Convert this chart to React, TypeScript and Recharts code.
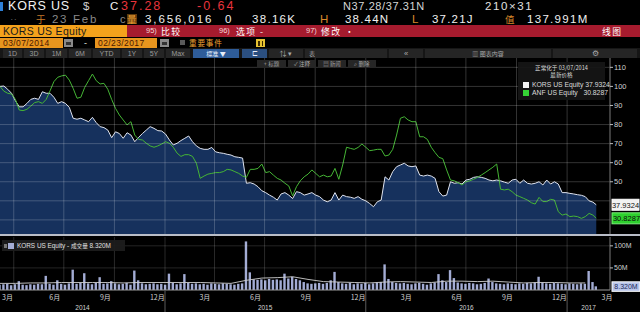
import React from 'react';
import { ComposedChart, Area, Line, Bar, XAxis, YAxis, ReferenceLine } from 'recharts';

// ---- data (weekly, normalised to 100 at 03/07/2014) ----
const korsValues = [
  100, 100.2, 98.5, 96.4, 92.5, 89.3, 89.3, 91.1, 93.2, 93.8, 93.2, 97.2, 96.4, 96.4, 94.3, 91.1, 92, 91.1, 89, 83.3,
  82.8, 83.3, 82.4, 81.5, 83.8, 81, 78.9, 78.4, 77.1, 73.1, 76.2, 75.3, 72.8, 75.7, 74.5, 71, 73.3, 75.3, 77.1, 78.9,
  78, 76.8, 76.6, 75, 71.9, 69.3, 70.2, 71.6, 72.8, 74, 71, 68.8,
  67.5, 67, 67, 68, 65.7, 65.2, 64.9, 64.4, 64, 63.1, 62.8, 62.4, 49.2, 49.5, 48.8, 47.4, 45.3, 44.3, 43, 41.9,
  40.4, 43.6, 44.3, 43, 41.2, 44.8, 44.3, 43, 43.6, 44.3, 43, 42.2, 40.4, 39.5, 40.4, 44.3, 40.4, 43, 42.2, 41.9,
  41.3, 42.2, 40.8, 40, 38.6, 36.9, 39.5, 40.4, 52.6, 50.9, 55.3, 57.9,
  58.8, 59.7, 58.3, 57.9, 58.3, 53.5, 53, 53.5, 53, 51.8, 44.8, 42.5, 43, 50, 49.2, 49.5, 48.8, 50.9, 51.3, 52.3,
  52.6, 52.3, 51.8, 50.9, 50.5, 50.9, 50.5, 49.8, 49.2, 50.9, 51.3, 49.2, 50.9, 49.2, 48.8, 49.2, 50, 48.3, 50.9, 48.8,
  50, 48.8, 44.3, 44.3, 43.9, 43.6, 43.2, 42.9, 42.2, 40, 39.3, 37.9324,
];
const anfValues = [
  100, 97.5, 96.4, 96, 93.2, 87.6, 87.3, 88, 89.7, 91.5, 92, 91.1, 93.2, 97.7, 102.5, 104.8, 105.5, 105.9, 103.3, 99,
  93.8, 94.3, 99.5, 103, 106.5, 103, 101.3, 101.6, 98.5, 93.2, 88.5, 85, 82.4, 79.8, 81.5, 74.5, 72.2, 71.9, 70.2, 68.8,
  68.1, 68.8, 69.8, 71, 70.2, 68.1, 65, 63.3, 64.2, 64.2, 63.3, 59.7,
  51.8, 53, 54, 54.4, 54.8, 54.8, 55.3, 56.5, 56.2, 55.3, 54.4, 53, 52.3, 56.5, 56.5, 57, 59.3, 54.8, 55.3, 53.5,
  51.8, 50.9, 49.2, 47.8, 42.6, 47.4, 50.5, 52.6, 54, 56.2, 54.4, 52.6, 53.5, 52.6, 53, 57, 51.3, 58.8, 68.1, 67.5,
  67, 68, 69.8, 68.1, 66.3, 66.6, 67, 67, 63.5, 64, 67, 74.5,
  83.3, 84.1, 82.4, 81.5, 81.5, 73.6, 73.6, 72.2, 68.1, 65.3, 62.8, 62.1, 56.2, 50.9, 50.5, 49.5, 48.3, 50, 50.5, 51.3,
  52.3, 53.5, 54.8, 56.2, 57.6, 59.3, 46.1, 45.7, 46.1, 44.8, 43, 42.2, 41.3, 40.4, 39, 38.3, 41.8, 39.6, 39.6, 40.8,
  40.4, 34.3, 32.5, 33.1, 31.7, 32, 31.7, 30.8, 31.7, 33.4, 32.5, 30.8287,
];
// weekly volume, millions of shares
const volumeValues = [
  12, 13, 14, 11, 13, 20, 12, 11, 13, 12, 14, 13, 32, 14, 12, 22, 14, 12, 15, 46,
  14, 16, 38, 15, 13, 16, 29, 14, 15, 20, 15, 13, 14, 16, 12, 44, 22, 15, 13, 14,
  15, 13, 14, 12, 37, 16, 13, 15, 36, 16, 14, 15, 13, 14, 12, 15, 14, 13, 15, 14,
  13, 12, 14, 15, 110, 40, 24, 23, 24, 22, 25, 23, 24, 22, 37, 26, 30, 25, 22, 18,
  15, 14, 15, 16, 14, 16, 22, 41, 18, 15, 14, 16, 13, 15, 14, 16, 13, 15, 17, 18,
  58, 25, 18, 16, 15, 16, 14, 13, 15, 16, 14, 12, 15, 17, 36, 22, 18, 45, 27, 17,
  15, 14, 16, 15, 13, 14, 16, 26, 18, 15, 14, 13, 15, 14, 13, 15, 14, 16, 15, 17,
  30, 17, 15, 14, 16, 15, 14, 13, 15, 14, 13, 15, 14, 43, 18, 8.32,
];
// volume average line, read every 4 weeks
const volumeAvgValues = [
  15, 15, 16, 16, 17, 17, 17, 17, 16, 17, 17, 17, 17, 17, 16, 15, 22, 27, 28, 30,
  24, 19, 18, 17, 16, 18, 19, 18, 17, 20, 20, 19, 20, 18, 16, 17, 17, 16, 16,
];
const priceGridValues = [30, 40, 50, 60, 70, 80, 90, 100, 110];
const priceTickLabels = [50, 60, 70, 80, 90, 100, 110];
const volumeTicks = [50, 100];
const monthTickDays = [0, 86, 178, 269, 359, 451, 543, 634, 725, 817, 909, 1000, 1090];
const monthTickLabels = ['3月', '6月', '9月', '12月', '3月', '6月', '9月', '12月', '3月', '6月', '9月', '12月', '3月'];
const yearBoundaryDays = [300, 665, 1031];
const quarterGridDays = [25, 116, 208, 300, 390, 481, 573, 665, 756, 847, 939, 1031];
const yearLabels = ['2014', '2015', '2016', '2017'];
const yearCenterDays = [150, 482, 848, 1070];
const lastDay = 1084;
const xMaxDay = 1109;

const korsLast = korsValues[korsValues.length - 1];
const anfLast = anfValues[anfValues.length - 1];
const volLast = volumeValues[volumeValues.length - 1];

const data = korsValues.map((k, i) => ({
  day: Math.min(i * 7, lastDay),
  kors: k,
  anf: anfValues[i],
  vol: volumeValues[i],
  volAvg: i % 4 === 0 && volumeAvgValues[i / 4] !== undefined ? volumeAvgValues[i / 4] : null,
}));

const FONT = "'Liberation Sans', Arial, 'Noto Sans CJK SC', sans-serif";
const CJK = "'Noto Sans CJK SC', 'Liberation Sans', sans-serif";
const GRID = 'rgba(255,255,255,0.2)';

const T = ({ x, y, size = 12, color = '#eee', ls = 0, bg, w, h, center, font, children }: any) => (
  <div
    style={{
      position: 'absolute', left: x, top: y, fontSize: size, color, letterSpacing: ls,
      lineHeight: `${h ?? size}px`, height: h, width: w, background: bg,
      textAlign: center ? 'center' : 'left', whiteSpace: 'nowrap', fontFamily: font ?? FONT,
    }}
  >
    {children}
  </div>
);
const B = ({ x, y, w, h, bg, border }: any) => (
  <div style={{ position: 'absolute', left: x, top: y, width: w, height: h, background: bg, border, boxSizing: 'border-box' }} />
);

const PriceTick = (props: any) => {
  const { x, y, payload } = props;
  const v = payload.value;
  if (v === korsLast) {
    return (
      <g>
        <rect x={x + 2} y={y - 5.5} width={27} height={11} fill="#f2f2f2" stroke="#ffffff" />
        <text x={x + 15.5} y={y + 2.8} fontSize={7.5} textAnchor="middle" fill="#111" fontFamily={FONT}>{v.toFixed(4)}</text>
      </g>
    );
  }
  if (v === anfLast) {
    return (
      <g>
        <rect x={x + 2} y={y - 5.5} width={29} height={11} fill="#2ed12e" stroke="#7cf07c" />
        <text x={x + 16.5} y={y + 2.8} fontSize={7.5} textAnchor="middle" fill="#0a0a0a" fontFamily={FONT}>{v.toFixed(4)}</text>
      </g>
    );
  }
  return (
    <g>
      <line x1={x} x2={x + 3} y1={y} y2={y} stroke="#bbb" />
      <text x={x + 4} y={y + 2.7} fontSize={7.5} fill="#d0d0d0" fontFamily={FONT}>{v}</text>
    </g>
  );
};

const VolTick = (props: any) => {
  const { x, y, payload } = props;
  const v = payload.value;
  if (v === volLast) {
    return (
      <g>
        <rect x={x + 2} y={y - 4.5} width={28} height={9.5} fill="#b9c5ea" stroke="#ffffff" />
        <text x={x + 16} y={y + 2.6} fontSize={7} textAnchor="middle" fill="#1c2a5a" fontFamily={FONT}>{v.toFixed(3) + 'M'}</text>
      </g>
    );
  }
  return (
    <g>
      <line x1={x} x2={x + 3} y1={y} y2={y} stroke="#bbb" />
      <text x={x + 4} y={y + 2.5} fontSize={7} fill="#d0d0d0" fontFamily={FONT}>{v + 'M'}</text>
    </g>
  );
};

const MonthTick = (props: any) => {
  const { x, y, payload } = props;
  const v = payload.value;
  if (yearBoundaryDays.indexOf(v) >= 0) {
    return <line x1={x} x2={x} y1={y} y2={y + 22} stroke="#5a5a5a" />;
  }
  const i = monthTickDays.indexOf(v);
  return (
    <text x={x + 2} y={y + 10} fontSize={7} fill="#d4d4d4" fontFamily={CJK}>{monthTickLabels[i]}</text>
  );
};

const YearTick = (props: any) => {
  const { x, y, payload } = props;
  const i = yearCenterDays.indexOf(payload.value);
  return (
    <text x={x} y={y + 8} fontSize={6.5} fill="#d4d4d4" textAnchor="middle" fontFamily={FONT}>{yearLabels[i]}</text>
  );
};

const rangeButtons: [string, number, number][] = [
  ['1D', 3, 19], ['3D', 24, 20], ['1M', 46, 21], ['6M', 69, 22], ['YTD', 93, 27],
  ['1Y', 122, 20], ['5Y', 144, 20], ['Max', 166, 24],
];
const chartButtons: [string, number, number][] = [
  ['+ 标题', 257, 29], ['✓ 注释', 288, 28], ['▤ 新闻', 318, 28], ['⌕ 删除', 348, 28],
];

export default function App() {
  return (
    <div style={{ position: 'absolute', left: 0, top: 0, width: 640, height: 312, background: '#000', overflow: 'hidden', fontFamily: FONT }}>
      {/* row 1 */}
      <B x={0} y={2} w={3} h={9} bg="#2d7fd6" />
      <T x={8} y={-0.5} size={12.5} h={12} ls={0.8} color="#f2f2f2">KORS US</T>
      <T x={83} y={-0.5} size={11.5} h={12} color="#cfcfcf">$</T>
      <T x={110} y={-0.5} size={11.5} h={12} color="#f2f2f2">C</T>
      <T x={121} y={-0.5} size={12.5} h={12} ls={2} color="#e8343c">37.28</T>
      <T x={197} y={-0.5} size={12.5} h={12} ls={2} color="#e8343c">-0.64</T>
      <T x={343} y={-0.5} size={11} h={12} ls={0.6} color="#d6d6d6">N37.28/37.31N</T>
      <T x={485} y={-0.5} size={11.5} h={12} ls={1.6} color="#e0e0e0">210×31</T>
      {/* row 2 */}
      <T x={10} y={13.5} size={7} h={11} color="#777">‥</T>
      <T x={36} y={14} size={9.5} h={10} color="#c47a2a" font={CJK}>于</T>
      <T x={52} y={13.5} size={11.5} h={11} ls={1.7} color="#8a8a8a">23 Feb</T>
      <T x={120} y={13.5} size={11} h={11} color="#8a8a8a">c</T>
      <T x={127} y={14} size={9.5} h={10} color="#f3a335" bg="#5e3a0c" font={CJK}>量</T>
      <T x={145} y={13.5} size={11.5} h={11} ls={1.9} color="#f0f0f0">3,656,016</T>
      <T x={225} y={13.5} size={11.5} h={11} color="#f0f0f0">0</T>
      <T x={252} y={13.5} size={11.5} h={11} ls={1.3} color="#f0f0f0">38.16K</T>
      <T x={320} y={13.5} size={11.5} h={11} color="#d8882a">H</T>
      <T x={345} y={13.5} size={11.5} h={11} ls={1.2} color="#f0f0f0">38.44N</T>
      <T x={412} y={13.5} size={11.5} h={11} color="#d8882a">L</T>
      <T x={432} y={13.5} size={11.5} h={11} ls={1.2} color="#f0f0f0">37.21J</T>
      <T x={505} y={14} size={9.5} h={10} color="#d8882a" font={CJK}>值</T>
      <T x={527} y={13.5} size={11.5} h={11} ls={1.3} color="#f0f0f0">137.991M</T>
      {/* row 3 */}
      <B x={0} y={25} w={127} h={12} bg="#f4a21c" />
      <T x={3} y={25.5} size={10.5} h={11} ls={0.3} color="#1a1a1a">KORS US Equity</T>
      <B x={127} y={25} w={513} h={12} bg="#a61b2e" />
      <T x={146} y={26} size={7.5} h={10} color="#f4dada">95)</T>
      <T x={161} y={26.5} size={8.8} h={9} ls={1.5} color="#ffffff" font={CJK}>比较</T>
      <T x={219} y={26} size={7.5} h={10} color="#f4dada">96)</T>
      <T x={236} y={26.5} size={8.8} h={9} ls={1.5} color="#ffffff" font={CJK}>选项 -</T>
      <T x={306} y={26} size={7.5} h={10} color="#f4dada">97)</T>
      <T x={321} y={26.5} size={8.8} h={9} ls={1.5} color="#ffffff" font={CJK}>修改 ·</T>
      <T x={602} y={26.5} size={8.8} h={9} ls={1.5} color="#ffffff" font={CJK}>线图</T>
      {/* row 4 */}
      <B x={0} y={38} w={63} h={10} bg="#e8951e" />
      <T x={3} y={38.5} size={8.5} h={9} ls={0.4} color="#4a1800">03/07/2014</T>
      <B x={64} y={39} w={9} h={8} bg="#8a8a8a" />
      <B x={66} y={42} w={5} h={3} bg="#333" />
      <T x={84} y={38.5} size={9} h={9} color="#e0e0e0">-</T>
      <B x={95} y={38} w={62} h={10} bg="#e8951e" />
      <T x={98} y={38.5} size={8.5} h={9} ls={0.4} color="#4a1800">02/23/2017</T>
      <B x={160} y={39} w={9} h={8} bg="#8a8a8a" />
      <B x={162} y={42} w={5} h={3} bg="#333" />
      <B x={180} y={40} w={5} h={5} bg="#5a5a5a" />
      <T x={189} y={39} size={7.6} h={8} ls={0.8} color="#f0a030" font={CJK}>重要事件</T>
      <B x={256} y={39} w={9} h={8} bg="#e6c232" />
      <B x={258} y={40.5} w={1.5} h={5} bg="#3a2a00" />
      <B x={261.5} y={40.5} w={1.5} h={5} bg="#3a2a00" />
      {/* row 5 */}
      <B x={0} y={48} w={640} h={10} bg="#161616" />
      {rangeButtons.map(([t, x, w]) => (
        <div key={t} style={{ position: 'absolute', left: x, top: 48.5, width: w, height: 9, background: '#252525', color: '#9a9a9a', fontSize: 7, lineHeight: '9px', textAlign: 'center' }}>{t}</div>
      ))}
      <div style={{ position: 'absolute', left: 193, top: 48.5, width: 46, height: 9, background: '#2e5c99', color: '#e8eefa', fontSize: 6, lineHeight: '9px', textAlign: 'center', fontFamily: CJK }}>標准 ▼</div>
      <div style={{ position: 'absolute', left: 242, top: 48.5, width: 25, height: 9, background: '#2b4f80', color: '#e8eefa', fontSize: 7, lineHeight: '9px', textAlign: 'center' }}>⊏</div>
      <div style={{ position: 'absolute', left: 269, top: 48.5, width: 34, height: 9, background: '#252525', color: '#aaa', fontSize: 7, lineHeight: '9px', textAlign: 'center' }}>⇅ ▾</div>
      <div style={{ position: 'absolute', left: 305, top: 48.5, width: 82, height: 9, background: '#252525', color: '#aaa', fontSize: 6, lineHeight: '9px', paddingLeft: 4, boxSizing: 'border-box', fontFamily: CJK }}>表</div>
      <div style={{ position: 'absolute', left: 389, top: 48.5, width: 34, height: 9, background: '#252525', color: '#aaa', fontSize: 7.5, lineHeight: '9px', textAlign: 'center' }}>«</div>
      <div style={{ position: 'absolute', left: 425, top: 48.5, width: 126, height: 9, background: '#252525', color: '#aaa', fontSize: 6, lineHeight: '9px', textAlign: 'center', fontFamily: CJK }}>▥ 图表内容</div>
      <div style={{ position: 'absolute', left: 553, top: 48.5, width: 84, height: 9, background: '#252525', color: '#aaa', fontSize: 7.5, lineHeight: '9px', textAlign: 'center' }}>⚙</div>

      {/* main chart */}
      <div style={{ position: 'absolute', left: 0, top: 58 }}>
        <ComposedChart width={640} height={176} data={data} margin={{ top: 0, right: 0, bottom: 0, left: 0 }}>
          <XAxis dataKey="day" type="number" domain={[0, xMaxDay]} hide />
          <YAxis
            orientation="right" width={30} domain={[22.6, 114.9]} allowDataOverflow
            ticks={[...priceTickLabels, korsLast, anfLast]} interval={0}
            tick={PriceTick} tickLine={false} tickSize={0} tickMargin={0}
            axisLine={{ stroke: '#7a7a7a' }}
          />
          <Area type="linear" dataKey="kors" stroke="#dfe3ee" strokeWidth={1} fill="#234f96" fillOpacity={0.62} dot={false} isAnimationActive={false} />
          <Line type="linear" dataKey="anf" stroke="#45b535" strokeWidth={1} dot={false} isAnimationActive={false} />
          {priceGridValues.map((v) => (
            <ReferenceLine key={'h' + v} y={v} stroke={GRID} strokeWidth={1} />
          ))}
          {quarterGridDays.map((d) => (
            <ReferenceLine key={'v' + d} x={d} stroke={GRID} strokeWidth={1} />
          ))}
        </ComposedChart>
      </div>

      {/* chart buttons */}
      {chartButtons.map(([t, x, w]) => (
        <div key={t} style={{ position: 'absolute', left: x, top: 60, width: w, height: 8, background: '#262626', color: '#a8a8a8', fontSize: 5.5, lineHeight: '8px', textAlign: 'center', fontFamily: CJK }}>{t}</div>
      ))}

      {/* legend */}
      <div style={{ position: 'absolute', left: 518, top: 62, width: 87, height: 38, background: 'rgba(22,22,22,0.93)', color: '#dcdcdc', fontSize: 6.8, fontFamily: FONT }}>
        <div style={{ position: 'absolute', left: 0, top: 1.5, width: 87, textAlign: 'center', lineHeight: '8px', fontSize: 5.6, fontFamily: CJK }}>正常化于 03/07/2014</div>
        <div style={{ position: 'absolute', left: 0, top: 10, width: 87, textAlign: 'center', lineHeight: '7px', fontSize: 5.6, fontFamily: CJK }}>最新价格</div>
        <div style={{ position: 'absolute', left: 5, top: 19.5, width: 6, height: 6, background: '#f4f4f4' }} />
        <div style={{ position: 'absolute', left: 14, top: 18.5, lineHeight: '8px', whiteSpace: 'nowrap' }}>KORS US Equity {korsLast.toFixed(4)}</div>
        <div style={{ position: 'absolute', left: 5, top: 27.5, width: 6, height: 6, background: '#35d335' }} />
        <div style={{ position: 'absolute', left: 14, top: 26.5, lineHeight: '8px', whiteSpace: 'nowrap' }}>ANF US Equity&nbsp;&nbsp;&nbsp;{anfLast.toFixed(4)}</div>
      </div>

      {/* separator */}
      <B x={0} y={233.5} w={640} h={2.5} bg="#b9bdc7" />

      {/* volume chart */}
      <div style={{ position: 'absolute', left: 0, top: 237 }}>
        <ComposedChart width={640} height={75} data={data} margin={{ top: 0, right: 0, bottom: 0, left: 0 }}>
          <XAxis
            xAxisId="m" dataKey="day" type="number" domain={[0, xMaxDay]} height={12}
            ticks={[...monthTickDays, ...yearBoundaryDays]} interval={0}
            tick={MonthTick} tickLine={false} tickSize={0} tickMargin={0}
            axisLine={{ stroke: '#9a9a9a' }}
          />
          <XAxis
            xAxisId="yr" dataKey="day" type="number" domain={[0, xMaxDay]} height={10}
            ticks={yearCenterDays} interval={0} tick={YearTick}
            tickLine={false} tickSize={0} tickMargin={0} axisLine={false}
          />
          <YAxis
            orientation="right" width={30} domain={[0, 120]} allowDataOverflow
            ticks={[...volumeTicks, volLast]} interval={0}
            tick={VolTick} tickLine={false} tickSize={0} tickMargin={0}
            axisLine={{ stroke: '#7a7a7a' }}
          />
          {volumeTicks.map((v) => (
            <ReferenceLine key={'vh' + v} xAxisId="m" y={v} stroke="rgba(255,255,255,0.14)" />
          ))}
          {quarterGridDays.map((d) => (
            <ReferenceLine key={'vv' + d} xAxisId="m" x={d} stroke="rgba(255,255,255,0.16)" />
          ))}
          <Bar xAxisId="m" dataKey="vol" fill="#a3acd4" barSize={2.4} isAnimationActive={false} />
          <Line xAxisId="m" type="linear" dataKey="volAvg" stroke="#cfcfcf" strokeWidth={0.9} dot={false} connectNulls isAnimationActive={false} />
        </ComposedChart>
      </div>

      {/* volume label */}
      <div style={{ position: 'absolute', left: 2, top: 240, width: 123, height: 11, background: 'rgba(28,28,28,0.95)' }}>
        <div style={{ position: 'absolute', left: 2, top: 3.5, width: 3, height: 4, background: '#777' }} />
        <div style={{ position: 'absolute', left: 6, top: 2.5, width: 6, height: 6, background: '#a3acd4' }} />
        <div style={{ position: 'absolute', left: 15, top: 1.5, fontSize: 6.4, lineHeight: '8px', color: '#e0e0e0', whiteSpace: 'nowrap' }}>
          KORS US Equity - <span style={{ fontFamily: CJK, fontSize: 5.6 }}>成交量</span> {volLast.toFixed(3)}M
        </div>
      </div>
    </div>
  );
}
